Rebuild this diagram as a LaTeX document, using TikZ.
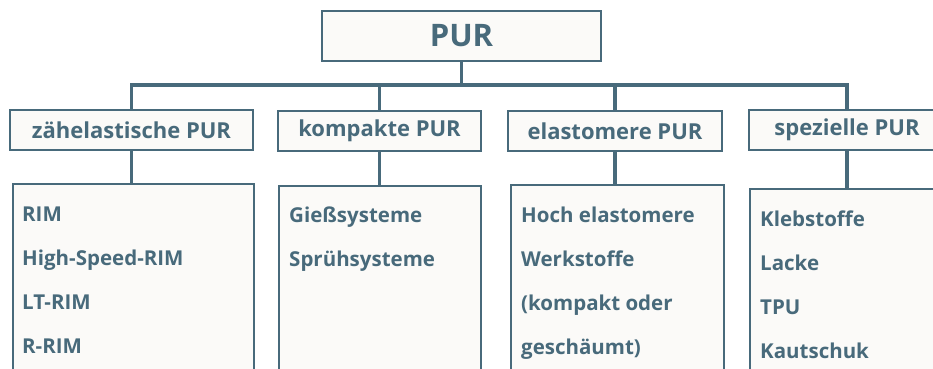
\documentclass[tikz,border=0pt]{standalone}
\usepackage{fontspec}
\setmainfont{Open Sans}
\usetikzlibrary{positioning}
\definecolor{purblue}{RGB}{72,106,123}
\definecolor{purfill}{RGB}{251,250,248}
\tikzset{
  box/.style={draw=purblue, line width=1.8pt, fill=purfill, text=purblue,
    inner sep=0pt, font=\bfseries\fontsize{22}{25}\selectfont},
  topbox/.style={box, minimum width=279pt, minimum height=50pt,
    font=\bfseries\fontsize{31}{36}\selectfont},
  groupbox/.style={box, minimum height=40pt},
  leafbox/.style={draw=purblue, line width=1.8pt, fill=purfill,
    anchor=north west, minimum height=220pt},
  items/.style={anchor=north west, align=left, text=purblue, inner sep=0pt,
    font=\bfseries\fontsize{20.5}{44}\selectfont},
  conn/.style={draw=purblue, line width=3.2pt}
}

\begin{document}
\begin{tikzpicture}[x=1pt,y=-1pt]
  \useasboundingbox (0,0) rectangle (933,368);
  \clip (0,0) rectangle (933,368);

  \node[topbox] (pur) at (461.5,36) {PUR};
  \coordinate (bar) at (461.5,85);

  \node[groupbox, minimum width=243pt] (zaeh) at (131.5,130) {zähelastische PUR};
  \node[groupbox, minimum width=203pt] (komp) at (379.5,131) {kompakte PUR};
  \node[groupbox, minimum width=214pt] (elast) at (615,131) {elastomere PUR};
  \node[groupbox, minimum width=196pt] (spez) at (847,130) {spezielle PUR};

  \node[leafbox, minimum width=241pt] (lzaeh) at (12,183) {};
  \node[leafbox, minimum width=202pt] (lkomp) at (278,185) {};
  \node[leafbox, minimum width=213pt] (lelast) at (510,184) {};
  \node[leafbox, minimum width=196pt] (lspez) at (749,188) {};

  % connectors
  \draw[conn] (pur.south) -- (pur.south |- bar);
  \draw[conn] (zaeh.north) -- (zaeh.north |- bar) -- (spez.north |- bar) -- (spez.north);
  \draw[conn] (komp.north |- bar) -- (komp.north);
  \draw[conn] (elast.north |- bar) -- (elast.north);
  \foreach \g in {zaeh,komp,elast,spez}
    \draw[conn] (\g.south) -- (\g.south |- l\g.north);

  \node[items] (tzaeh) at (22,207) {RIM\\High-Speed-RIM\\LT-RIM\\R-RIM};
  \node[items] (tkomp) at (289,207) {Gießsysteme\\Sprühsysteme};
  \node[items] (telast) at (521,207) {Hoch elastomere\\Werkstoffe\\(kompakt oder\\geschäumt)};
  \node[items] (tspez) at (760,211) {Klebstoffe\\Lacke\\TPU\\Kautschuk};
\end{tikzpicture}
\end{document}
